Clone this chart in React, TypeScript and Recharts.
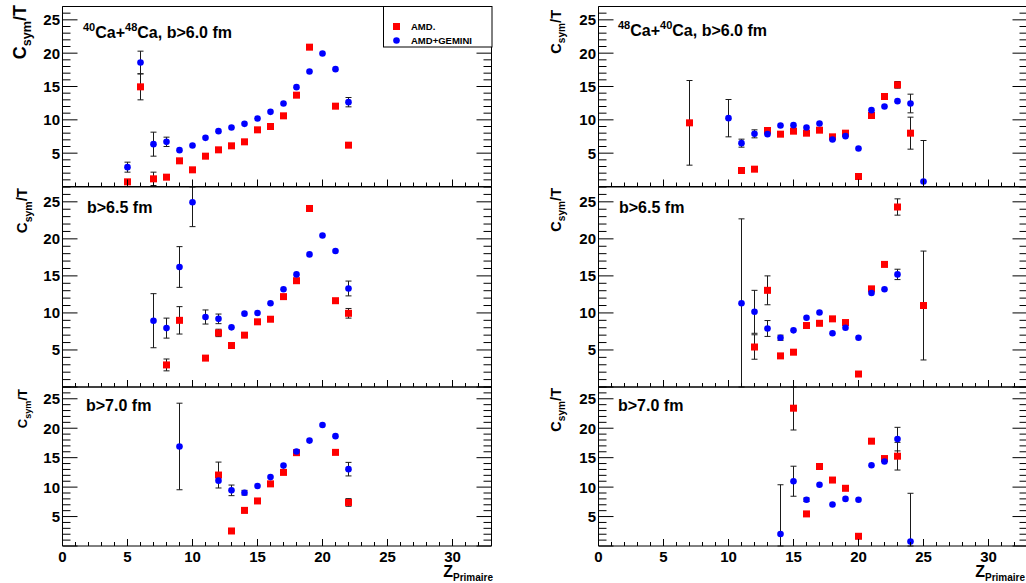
import React from "react";
import { ScatterChart, Scatter, XAxis, YAxis, ErrorBar, Legend } from "recharts";

// Csym/T vs Z_Primaire. null = no point at that Z.
// 40Ca+48Ca, b>6.0 fm
const zL60 = [5, 6, 7, 8, 9, 10, 11, 12, 13, 14, 15, 16, 17, 18, 19, 20, 21, 22];
const amdL60 = [0.7, 14.95, 1.15, 1.4, 3.85, 2.5, 4.55, 5.5, 6.1, 6.7, 8.5, 9.0, 10.6, 13.7, 20.9, null, 12.05, 6.2];
const amdErrL60 = [0.3, 1.95, 1.0, 0, 0, 0, 0, 0, 0, 0, 0, 0, 0, 0, 0, 0, 0, 0];
const gemL60 = [2.9, 18.6, 6.35, 6.7, 5.45, 6.15, 7.3, 8.3, 8.85, 9.4, 10.2, 11.2, 12.45, 14.9, 17.25, 19.95, 17.6, 12.65];
const gemErrL60 = [0.75, 1.7, 1.8, 0.7, 0, 0, 0, 0, 0, 0, 0, 0, 0, 0, 0, 0, 0, 0.7];

// b>6.5 fm
const zL65 = [7, 8, 9, 10, 11, 12, 13, 14, 15, 16, 17, 18, 19, 20, 21, 22];
const amdL65 = [null, 2.98, 9.0, null, 3.9, 7.3, 5.6, 7.0, 8.8, 9.15, 12.2, 14.35, 24.1, null, 11.65, 9.95];
const amdErrL65 = [0, 0.8, 1.85, 0, 0.3, 0.5, 0, 0, 0, 0, 0, 0, 0, 0, 0, 0.65];
const gemL65 = [8.95, 7.95, 16.2, 24.95, 9.45, 9.2, 8.05, 9.9, 10.0, 11.3, 13.2, 15.2, 17.9, 20.45, 18.35, 13.3];
const gemErrL65 = [3.65, 1.35, 2.75, 3.3, 0.95, 0.65, 0, 0, 0, 0, 0, 0, 0, 0, 0, 1.0];

// b>7.0 fm
const zL70 = [9, 10, 11, 12, 13, 14, 15, 16, 17, 18, 19, 20, 21, 22];
const amdL70 = [null, null, null, 12.05, 2.55, 6.05, 7.65, 10.55, 12.5, 15.85, null, null, 15.9, 7.4];
const amdErrL70 = [0, 0, 0, 2.2, 0.4, 0.4, 0, 0, 0, 0, 0, 0, 0, 0.65];
const gemL70 = [16.9, null, null, 11.1, 9.45, 9.05, 10.2, 11.7, 13.65, 16.05, 17.9, 20.55, 18.65, 13.05];
const gemErrL70 = [7.35, 0, 0, 0, 0.9, 0.4, 0, 0, 0, 0, 0, 0, 0, 1.15];

// 48Ca+40Ca, b>6.0 fm
const zR60 = [7, 8, 9, 10, 11, 12, 13, 14, 15, 16, 17, 18, 19, 20, 21, 22, 23, 24, 25];
const amdR60 = [9.55, null, null, null, 2.4, 2.6, 8.4, 7.85, 8.3, 8.0, 8.45, 7.45, 8.0, 1.5, 10.65, 13.5, 15.25, 8.0, null];
const amdErrR60 = [6.35, 0, 0, 0, 0, 0.3, 0, 0, 0, 0, 0, 0, 0, 0, 0, 0, 0.5, 2.4, 0];
const gemR60 = [null, null, null, 10.25, 6.5, 7.9, 7.85, 9.15, 9.2, 8.85, 9.45, 7.05, 7.55, 5.7, 11.45, 12.0, 12.8, 12.45, 0.75];
const gemErrR60 = [0, 0, 0, 2.8, 0.6, 0.6, 0, 0, 0, 0, 0, 0, 0, 0, 0, 0, 0, 1.4, 6.15];

// b>6.5 fm
const zR65 = [11, 12, 13, 14, 15, 16, 17, 18, 19, 20, 21, 22, 23, 24, 25];
const amdR65 = [null, 5.4, 13.05, 4.2, 4.7, 8.3, 8.6, 9.2, 8.7, 1.75, 13.25, 16.55, 24.3, null, 11.0];
const amdErrR65 = [0, 1.65, 1.95, 0, 0, 0, 0, 0, 0, 0, 0, 0, 1.1, 0, 7.35];
const gemR65 = [11.3, 10.15, 7.9, 6.65, 7.65, 9.35, 10.05, 7.25, 8.0, 6.65, 12.7, 13.2, 15.2, null, null];
const gemErrR65 = [11.4, 2.9, 1.07, 0.35, 0, 0, 0, 0, 0, 0, 0, 0, 0.7, 0, 0];

// b>7.0 fm
const zR70 = [14, 15, 16, 17, 18, 19, 20, 21, 22, 23, 24];
const amdR70 = [null, 23.4, 5.45, 13.5, 11.2, 9.8, 1.65, 17.8, 14.85, 15.25, null];
const amdErrR70 = [0, 3.7, 0, 0, 0, 0, 0, 0, 0, 2.35, 0];
const gemR70 = [2.05, 11.0, 7.85, 10.4, 7.05, 8.0, 7.85, 13.7, 14.35, 18.15, 0.75];
const gemErrR70 = [8.35, 2.55, 0.3, 0, 0, 0, 0, 0, 0, 2.0, 8.2];

const xLabels = [0, 5, 10, 15, 20, 25, 30];
const yLabels = [5, 10, 15, 20, 25];
const X_MAX = 33;
const Y_MAX = 27;
const xTicks = Array.from({ length: X_MAX + 1 }, (_, i) => i); // minor tick every unit
const yTicks = Array.from({ length: Y_MAX + 1 }, (_, i) => i);

const RED = "#ff0000";
const BLUE = "#0000ff";
const font = { fontFamily: "'Liberation Sans', Arial, Helvetica, sans-serif", fontWeight: 700 };

// error bars are cut at the frame like in the ROOT canvas (ErrorBar itself is not clipped)
const toRows = (z: number[], v: (number | null)[], e: number[]) =>
  z
    .map((zz, i) => {
      const val = v[i];
      const err = e[i];
      return {
        z: zz,
        v: val,
        e: val != null && err ? [Math.min(err, val), Math.min(err, Y_MAX - val)] : 0,
      };
    })
    .filter((r) => r.v != null);

const Square = (p: any) => <rect x={p.cx - 3.5} y={p.cy - 3.5} width={7} height={7} fill={RED} />;
const Dot = (p: any) => <circle cx={p.cx} cy={p.cy} r={3.3} fill={BLUE} />;

// ROOT-style ticks: pointing into the frame, long every 5 units
const BottomTick = ({ x, y, payload, showLabel }: any) => {
  const major = payload.value % 5 === 0;
  return (
    <g>
      <line x1={x} x2={x} y1={y} y2={y - (major ? 7 : 4)} stroke="#000" />
      {showLabel && xLabels.includes(payload.value) ? (
        <text x={x} y={y + 16} textAnchor="middle" fontSize={15} fill="#000" style={font}>
          {payload.value}
        </text>
      ) : null}
    </g>
  );
};
const TopTick = ({ x, y, payload }: any) => (
  <line x1={x} x2={x} y1={y} y2={y + (payload.value % 5 === 0 ? 7 : 4)} stroke="#000" />
);
const LeftTick = ({ x, y, payload }: any) => (
  <g>
    <line x1={x} x2={x + (payload.value % 5 === 0 ? 15 : 8)} y1={y} y2={y} stroke="#000" />
    {yLabels.includes(payload.value) ? (
      <text x={x - 2.5} y={y + 5.5} textAnchor="end" fontSize={15} fill="#000" style={font}>
        {payload.value}
      </text>
    ) : null}
  </g>
);
const RightTick = ({ x, y, payload }: any) => (
  <line x1={x} x2={x - (payload.value % 5 === 0 ? 15 : 8)} y1={y} y2={y} stroke="#000" />
);

const LegendBox = ({ payload }: any) => {
  const names = (payload || []).map((it: any) => it.value);
  const amd = names.find((n: string) => n === "AMD.") || "AMD.";
  const gem = names.find((n: string) => n === "AMD+GEMINI") || "AMD+GEMINI";
  return (
    <svg width={112} height={44}>
      <rect x={0.5} y={0.5} width={108.5} height={40.5} fill="#fff" stroke="#000" />
      <rect x={10} y={17} width={7} height={7} fill={RED} />
      <text x={28} y={24} fontSize={9.5} fill="#000" style={font}>{amd}</text>
      <circle cx={13.5} cy={34.5} r={3.3} fill={BLUE} />
      <text x={28} y={38} fontSize={9.5} fill="#000" style={font}>{gem}</text>
    </svg>
  );
};

type PanelProps = {
  left: number;
  top: number;
  height: number;
  mTop: number;
  mBottom: number;
  z: number[];
  amd: (number | null)[];
  amdErr: number[];
  gem: (number | null)[];
  gemErr: number[];
  labels?: boolean;
  legend?: boolean;
};

// axes are 1px thick so that Recharts draws them; plot area is unchanged
function Panel(p: PanelProps) {
  const frame = { stroke: "#000", strokeWidth: 1 };
  return (
    <div style={{ position: "absolute", left: p.left, top: p.top }}>
      <ScatterChart width={500} height={p.height} margin={{ top: p.mTop - 1, right: 7.5, bottom: p.mBottom - 1, left: 0 }}>
        <XAxis
          xAxisId="b"
          type="number"
          dataKey="z"
          domain={[0, X_MAX]}
          ticks={xTicks}
          interval={0}
          allowDataOverflow
          height={1}
          tickSize={0}
          tickMargin={0}
          tickLine={false}
          axisLine={frame}
          tick={(t: any) => <BottomTick {...t} showLabel={p.labels} />}
        />
        <XAxis
          xAxisId="t"
          orientation="top"
          type="number"
          domain={[0, X_MAX]}
          ticks={xTicks}
          interval={0}
          allowDataOverflow
          height={1}
          tickSize={0}
          tickMargin={0}
          tickLine={false}
          axisLine={frame}
          tick={TopTick}
        />
        <YAxis
          yAxisId="l"
          type="number"
          dataKey="v"
          domain={[0, Y_MAX]}
          ticks={yTicks}
          interval={0}
          allowDataOverflow
          width={62.5}
          tickSize={0}
          tickMargin={0}
          tickLine={false}
          axisLine={frame}
          tick={LeftTick}
        />
        <YAxis
          yAxisId="r"
          orientation="right"
          type="number"
          domain={[0, Y_MAX]}
          ticks={yTicks}
          interval={0}
          allowDataOverflow
          width={1}
          tickSize={0}
          tickMargin={0}
          tickLine={false}
          axisLine={frame}
          tick={RightTick}
        />
        <Scatter name="AMD." data={toRows(p.z, p.amd, p.amdErr)} xAxisId="b" yAxisId="l" shape={Square} isAnimationActive={false}>
          <ErrorBar dataKey="e" direction="y" width={3} stroke="#1a1a1a" strokeWidth={1} />
        </Scatter>
        <Scatter name="AMD+GEMINI" data={toRows(p.z, p.gem, p.gemErr)} xAxisId="b" yAxisId="l" shape={Dot} isAnimationActive={false}>
          <ErrorBar dataKey="e" direction="y" width={3} stroke="#1a1a1a" strokeWidth={1} />
        </Scatter>
        {p.legend ? (
          <Legend
            layout="horizontal"
            verticalAlign="middle"
            align="center"
            wrapperStyle={{ position: "absolute", left: 383, top: 6, width: 112, height: 44 }}
            content={LegendBox}
          />
        ) : null}
      </ScatterChart>
    </div>
  );
}

const Sup = ({ t }: { t: string }) => (
  <tspan fontSize={11} dy={-7}>{t}</tspan>
);

const YTitle = ({ x, y, f }: { x: number; y: number; f: number }) => (
  <text transform={`translate(${x},${y}) rotate(-90)`} textAnchor="end" fontSize={f} fill="#000" style={font}>
    C
    <tspan fontSize={f * 0.7} dy={f * 0.3}>sym</tspan>
    <tspan dy={-f * 0.3}>/T</tspan>
  </text>
);

export default function App() {
  return (
    <div style={{ position: "fixed", left: 0, top: 0, width: 1026, height: 583, overflow: "hidden", background: "#fff" }}>
      <Panel left={0} top={0} height={196.5} mTop={6.5} mBottom={10} z={zL60} amd={amdL60} amdErr={amdErrL60} gem={gemL60} gemErr={gemErrL60} legend />
      <Panel left={0} top={176.5} height={220} mTop={10} mBottom={10} z={zL65} amd={amdL65} amdErr={amdErrL65} gem={gemL65} gemErr={gemErrL65} />
      <Panel left={0} top={376.5} height={216} mTop={10} mBottom={47} z={zL70} amd={amdL70} amdErr={amdErrL70} gem={gemL70} gemErr={gemErrL70} labels />
      <Panel left={536} top={0} height={196.5} mTop={6.5} mBottom={10} z={zR60} amd={amdR60} amdErr={amdErrR60} gem={gemR60} gemErr={gemErrR60} />
      <Panel left={536} top={176.5} height={220} mTop={10} mBottom={10} z={zR65} amd={amdR65} amdErr={amdErrR65} gem={gemR65} gemErr={gemErrR65} />
      <Panel left={536} top={376.5} height={216} mTop={10} mBottom={47} z={zR70} amd={amdR70} amdErr={amdErrR70} gem={gemR70} gemErr={gemErrR70} labels />

      <svg width={1026} height={583} style={{ position: "absolute", left: 0, top: 0, pointerEvents: "none" }}>
        <text x={83} y={38} fontSize={16} fill="#000" style={font}>
          <Sup t="40" />
          <tspan dy={7}>Ca+</tspan>
          <Sup t="48" />
          <tspan dy={7}>Ca, b&gt;6.0 fm</tspan>
        </text>
        <text x={618} y={36} fontSize={16} fill="#000" style={font}>
          <Sup t="48" />
          <tspan dy={7}>Ca+</tspan>
          <Sup t="40" />
          <tspan dy={7}>Ca, b&gt;6.0 fm</tspan>
        </text>
        <text x={87} y={212.5} fontSize={16} fill="#000" style={font}>b&gt;6.5 fm</text>
        <text x={619} y={213} fontSize={16} fill="#000" style={font}>b&gt;6.5 fm</text>
        <text x={86} y={410.5} fontSize={16} fill="#000" style={font}>b&gt;7.0 fm</text>
        <text x={618} y={410.5} fontSize={16} fill="#000" style={font}>b&gt;7.0 fm</text>

        <YTitle x={26} y={5} f={18} />
        <YTitle x={27} y={188} f={15} />
        <YTitle x={27} y={389} f={13} />
        <YTitle x={561} y={10} f={14.5} />
        <YTitle x={561} y={188} f={14.5} />
        <YTitle x={561} y={388} f={14.5} />

        <text x={493} y={577} textAnchor="end" fontSize={16} fill="#000" style={font}>
          Z<tspan fontSize={10} dy={4}>Primaire</tspan>
        </text>
        <text x={1025} y={577} textAnchor="end" fontSize={16} fill="#000" style={font}>
          Z<tspan fontSize={10} dy={4}>Primaire</tspan>
        </text>
      </svg>
    </div>
  );
}
